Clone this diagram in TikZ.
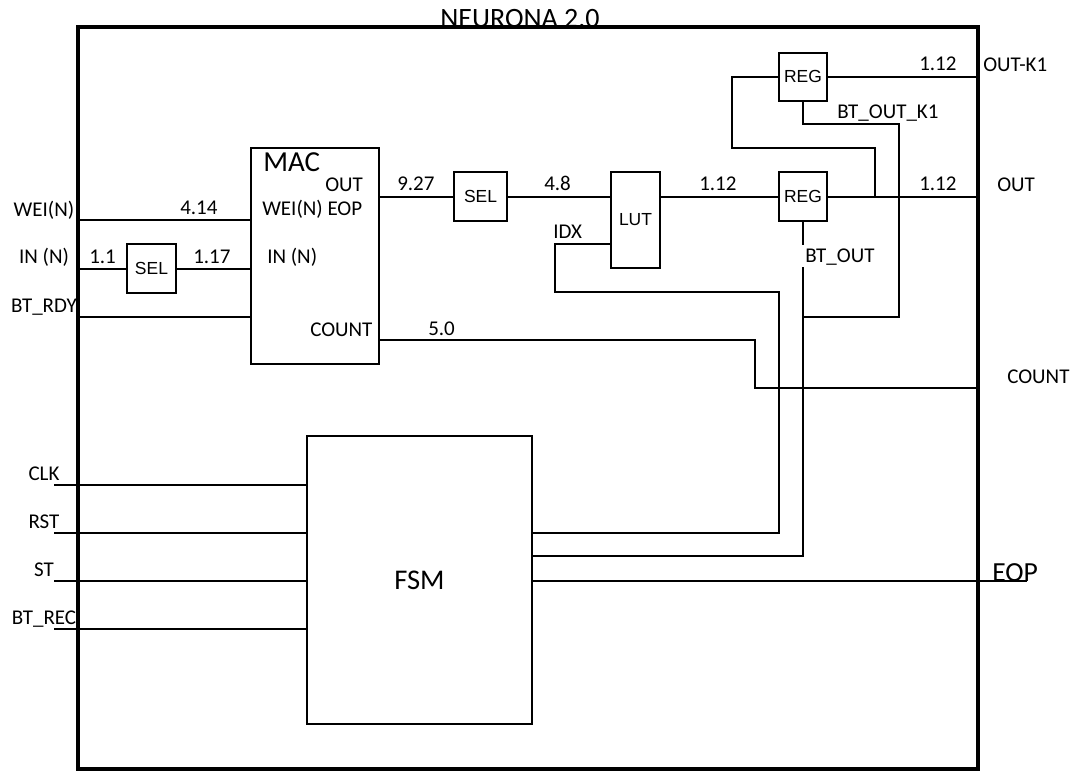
\documentclass[tikz,border=0pt]{standalone}
\usepackage{fontspec}
\setmainfont{Carlito}
\newfontfamily\boxfont{Liberation Sans}

\tikzset{
	sig/.style={line width=1.5pt},
	blk/.style={draw, line width=1.5pt, inner sep=0pt, font=\boxfont\fontsize{13.1}{15}\selectfont},
	txt/.style={inner sep=0pt, anchor=base west, font=\fontsize{15.75}{18}\selectfont},
}

\begin{document}
\begin{tikzpicture}[x=0.75pt, y=-0.75pt]
	\useasboundingbox (0,0) rectangle (1073,771);
	% title and outer frame
	\node[inner sep=0pt, anchor=base, font=\fontsize{21}{24}\selectfont] (title) at (520,27) {NEURONA 2.0};
	\draw[line width=3pt] (78,27) rectangle (978,769);
	% blocks
	\node[blk, minimum width=96pt, minimum height=162pt] (mac) at (315,256) {};
	\node[blk, minimum width=36.75pt, minimum height=36.75pt] (selin) at (151.5,268.5) {SEL};
	\node[blk, minimum width=39.75pt, minimum height=36.75pt] (selout) at (480.5,196.5) {SEL};
	\node[blk, minimum width=36.75pt, minimum height=72pt] (lut) at (635.5,220) {LUT};
	\node[blk, minimum width=36pt, minimum height=36pt] (regk) at (803,76.5) {REG};
	\node[blk, minimum width=36pt, minimum height=36.75pt] (reg) at (803,196.5) {REG};
	\node[blk, minimum width=168.75pt, minimum height=216pt, font=\fontsize{21.4}{24}\selectfont] (fsm) at (419.5,580) {FSM};
	% MAC pins
	\node[txt, font=\fontsize{21.75}{24}\selectfont] (macname) at (263,171) {MAC};
	\node[txt] (macout) at (325,191) {OUT};
	\node[txt] (macwei) at (262,215) {WEI(N) EOP};
	\node[txt] (macin) at (267,263) {IN (N)};
	\node[txt] (maccnt) at (310,336) {COUNT};
	% ports on the frame
	\coordinate (pwei) at (78,220);
	\coordinate (pin) at (78,268.5);
	\coordinate (prdy) at (78,317);
	\coordinate (pk1) at (978,76.5);
	\coordinate (pout) at (978,196.5);
	\coordinate (pcnt) at (978,388);
	\coordinate (peop) at (1027,581);
	\node[txt, anchor=base] (lwei) at (44,216) {WEI(N)};
	\node[txt, anchor=base] (lin) at (44,263) {IN (N)};
	\node[txt, anchor=base] (lrdy) at (44,312) {BT\_RDY};
	\node[txt] (lk1) at (983,71) {OUT-K1};
	\node[txt] (lout) at (997,191) {OUT};
	\node[txt] (lcnt) at (1007,383) {COUNT};
	\node[txt, font=\fontsize{20.7}{24}\selectfont] (leop) at (992,581) {EOP};
	% inputs of the MAC
	\draw[sig] (pwei) -- (pwei -| mac.west);
	\draw[sig] (pin) -- (selin.west);
	\draw[sig] (selin.east) -- (selin.east -| mac.west);
	\draw[sig] (prdy) -- (prdy -| mac.west);
	\node[txt] (w414) at (180,214) {4.14};
	\node[txt] (w11) at (89,263) {1.1};
	\node[txt] (w117) at (193,263) {1.17};
	% data path to OUT
	\draw[sig] (mac.east |- selout.west) -- (selout.west);
	\draw[sig] (selout.east) -- (selout.east -| lut.west);
	\draw[sig] (lut.east |- reg.west) -- (reg.west);
	\draw[sig] (reg.east) -- (pout);
	\node[txt] (w927) at (397,190) {9.27};
	\node[txt] (w48) at (544,190) {4.8};
	\node[txt] (w112a) at (699,190) {1.12};
	\node[txt] (w112b) at (919,190) {1.12};
	% delayed output OUT-K1
	\draw[sig] (875,196.5) |- (732,148) |- (regk.west);
	\draw[sig] (regk.east) -- (pk1);
	\node[txt] (w112c) at (919,70) {1.12};
	% COUNT
	\draw[sig] (mac.east |- 0,340) -| (755,388) -- (pcnt);
	\node[txt] (w50) at (428,335) {5.0};
	% control lines back to the FSM
	\draw[sig] (lut.west |- 0,244) -| (555,292) -| (779,533) -- (fsm.east |- 0,533);
	\node[txt] (lidx) at (553,238) {IDX};
	\draw[sig] (reg.south) -- (803,245);
	\draw[sig] (803,267) |- (fsm.east |- 0,556);
	\node[txt] (lbtout) at (805,262) {BT\_OUT};
	\draw[sig] (regk.south) |- (899,124) |- (803,317);
	\node[txt] (lbtk1) at (837,118) {BT\_OUT\_K1};
	\draw[sig] (fsm.east |- 0,581) -- (peop);
	% FSM inputs
	\foreach \y/\t in {485/CLK, 533/RST, 581/ST, 629/BT\_REC} {
		\draw[sig] (54,\y) -- (fsm.west |- 0,\y);
		\node[txt, anchor=base] (in\y) at (44,\y-5) {\t};
	}
\end{tikzpicture}
\end{document}
